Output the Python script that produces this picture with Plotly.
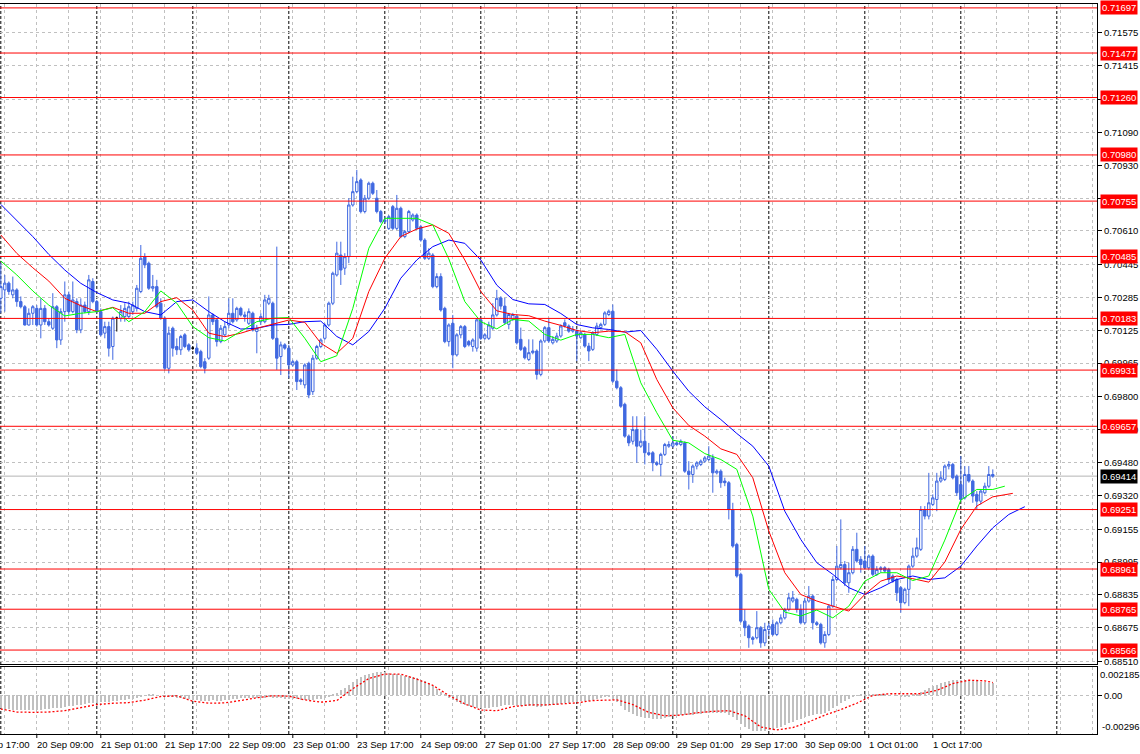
import plotly.graph_objects as go

BLUE = "#4169E1"
GRID = "#C0C0C0"

# ---- H1 candles (bar 0 = 20 Sep 00:00) ----
open_ = [0.70281,0.70322,0.70355,0.70298,0.70322,0.70265,0.70240,0.70151,0.70208,0.70232,
0.70151,0.70232,0.70167,0.70135,0.70240,0.70078,0.70216,0.70298,0.70216,0.70265,
0.70127,0.70248,0.70216,0.70363,0.70265,0.70216,0.70111,0.70143,0.70046,0.70184,
0.70184,0.70192,0.70192,0.70216,0.70232,0.70314,0.70484,0.70452,0.70330,0.70338,
0.70257,0.70184,0.69940,0.70135,0.70046,0.70030,0.70103,0.70054,0.70038,0.70038,
0.70021,0.69972,0.69989,0.70200,0.70176,0.70070,0.70103,0.70151,0.70208,0.70176,
0.70232,0.70200,0.70159,0.70208,0.70119,0.70167,0.70167,0.70257,0.70257,0.70086,
0.69997,0.70054,0.70038,0.69956,0.69972,0.69883,0.69859,0.69964,0.69826,0.69989,
0.70046,0.70086,0.70151,0.70257,0.70395,0.70492,0.70428,0.70484,0.70736,0.70801,
0.70858,0.70704,0.70769,0.70842,0.70769,0.70704,0.70655,0.70622,0.70728,0.70622,
0.70720,0.70582,0.70606,0.70663,0.70687,0.70630,0.70565,0.70476,0.70492,0.70338,
0.70387,0.70232,0.70070,0.70159,0.70005,0.70103,0.70143,0.70070,0.70046,0.70038,
0.70176,0.70086,0.70086,0.70135,0.70200,0.70283,0.70243,0.70154,0.70178,0.70194,
0.70081,0.70040,0.69983,0.70016,0.70024,0.69910,0.70073,0.70138,0.70064,0.70073,
0.70097,0.70162,0.70146,0.70121,0.70121,0.70089,0.70105,0.70048,0.70032,0.70105,
0.70138,0.70154,0.70202,0.70218,0.69877,0.69845,0.69764,0.69609,0.69584,0.69641,
0.69560,0.69584,0.69528,0.69528,0.69479,0.69471,0.69520,0.69560,0.69560,0.69576,
0.69568,0.69576,0.69438,0.69422,0.69463,0.69471,0.69487,0.69495,0.69503,0.69430,
0.69438,0.69390,0.69382,0.69251,0.69081,0.68935,0.68707,0.68683,0.68626,0.68626,
0.68675,0.68601,0.68666,0.68691,0.68642,0.68699,0.68723,0.68764,0.68805,0.68813,
0.68764,0.68699,0.68805,0.68829,0.68699,0.68691,0.68601,0.68642,0.68780,0.68910,
0.68967,0.68983,0.68894,0.68943,0.69057,0.69008,0.69000,0.68967,0.69024,0.68935,
0.68959,0.68967,0.68959,0.68927,0.68910,0.68870,0.68797,0.68862,0.68975,0.69024,
0.69057,0.69251,0.69219,0.69276,0.69300,0.69390,0.69398,0.69463,0.69471,0.69414,
0.69373,0.69308,0.69422,0.69390,0.69325,0.69292,0.69333,0.69365,0.69422]
high = [0.70452,0.70395,0.70363,0.70387,0.70330,0.70290,0.70248,0.70232,0.70248,0.70248,
0.70281,0.70248,0.70184,0.70306,0.70248,0.70232,0.70363,0.70314,0.70363,0.70281,
0.70281,0.70265,0.70395,0.70379,0.70273,0.70232,0.70167,0.70167,0.70192,0.70192,
0.70248,0.70257,0.70265,0.70265,0.70346,0.70541,0.70501,0.70460,0.70395,0.70371,
0.70281,0.70192,0.70143,0.70143,0.70086,0.70103,0.70111,0.70062,0.70046,0.70062,
0.70030,0.69989,0.70290,0.70208,0.70184,0.70151,0.70167,0.70281,0.70281,0.70240,
0.70240,0.70216,0.70232,0.70216,0.70151,0.70208,0.70298,0.70298,0.70265,0.70533,
0.70070,0.70062,0.70054,0.69981,0.69981,0.69891,0.69964,0.69972,0.70005,0.70054,
0.70086,0.70159,0.70265,0.70411,0.70557,0.70557,0.70501,0.70769,0.70874,0.70907,
0.70866,0.70785,0.70850,0.70850,0.70809,0.70712,0.70679,0.70687,0.70736,0.70785,
0.70728,0.70614,0.70712,0.70695,0.70695,0.70639,0.70574,0.70525,0.70501,0.70403,
0.70403,0.70240,0.70159,0.70200,0.70111,0.70151,0.70151,0.70078,0.70086,0.70184,
0.70184,0.70111,0.70167,0.70257,0.70322,0.70291,0.70283,0.70210,0.70210,0.70202,
0.70138,0.70048,0.70081,0.70081,0.70032,0.70081,0.70146,0.70186,0.70097,0.70113,
0.70154,0.70178,0.70154,0.70146,0.70130,0.70121,0.70113,0.70064,0.70121,0.70162,
0.70162,0.70218,0.70226,0.70251,0.69934,0.69853,0.69772,0.69617,0.69706,0.69706,
0.69641,0.69706,0.69576,0.69536,0.69487,0.69528,0.69576,0.69584,0.69609,0.69584,
0.69593,0.69584,0.69487,0.69471,0.69487,0.69495,0.69512,0.69560,0.69520,0.69447,
0.69447,0.69406,0.69390,0.69284,0.69089,0.68943,0.68764,0.68691,0.68634,0.68756,
0.68683,0.68699,0.68699,0.68715,0.68707,0.68740,0.68772,0.68845,0.68854,0.68821,
0.68789,0.68821,0.68878,0.68837,0.68707,0.68699,0.68658,0.68789,0.68927,0.69073,
0.69203,0.69000,0.68992,0.69073,0.69138,0.69024,0.69073,0.69032,0.69032,0.68975,
0.68975,0.68975,0.68967,0.68935,0.68918,0.68878,0.68870,0.68983,0.69065,0.69114,
0.69268,0.69268,0.69430,0.69325,0.69430,0.69438,0.69471,0.69487,0.69479,0.69422,
0.69512,0.69463,0.69463,0.69398,0.69341,0.69349,0.69382,0.69463,0.69447]
low = [0.70208,0.70216,0.70298,0.70281,0.70240,0.70232,0.70148,0.70148,0.70151,0.70143,
0.70086,0.70151,0.70143,0.70127,0.70038,0.70054,0.70167,0.70200,0.70208,0.70111,
0.70111,0.70208,0.70200,0.70257,0.70208,0.70095,0.70086,0.69997,0.69981,0.70119,
0.70167,0.70167,0.70184,0.70200,0.70216,0.70306,0.70428,0.70322,0.70314,0.70232,
0.70176,0.69932,0.69915,0.69997,0.70005,0.70005,0.70038,0.70021,0.70030,0.70005,
0.69940,0.69915,0.69981,0.70151,0.70046,0.70062,0.70095,0.70135,0.70159,0.70167,
0.70192,0.70167,0.70151,0.70119,0.70013,0.70151,0.70159,0.70248,0.70078,0.69932,
0.69907,0.70030,0.69891,0.69948,0.69834,0.69859,0.69842,0.69794,0.69810,0.69981,
0.70038,0.70078,0.70143,0.70248,0.70387,0.70346,0.70395,0.70452,0.70728,0.70793,
0.70695,0.70695,0.70761,0.70785,0.70695,0.70647,0.70647,0.70614,0.70614,0.70614,
0.70574,0.70574,0.70598,0.70655,0.70614,0.70557,0.70468,0.70468,0.70330,0.70330,
0.70216,0.70062,0.70046,0.69940,0.69997,0.70086,0.70038,0.70046,0.70021,0.70021,
0.70078,0.70078,0.70078,0.70127,0.70192,0.70226,0.70154,0.70130,0.70170,0.70056,
0.70024,0.69983,0.69975,0.70008,0.69885,0.69901,0.70064,0.70064,0.70056,0.70064,
0.70089,0.70138,0.70113,0.70113,0.69975,0.70081,0.70040,0.69975,0.70024,0.70097,
0.70130,0.70146,0.70194,0.69869,0.69837,0.69747,0.69601,0.69560,0.69568,0.69479,
0.69552,0.69471,0.69512,0.69438,0.69463,0.69414,0.69512,0.69552,0.69552,0.69560,
0.69560,0.69430,0.69349,0.69381,0.69447,0.69463,0.69479,0.69487,0.69333,0.69422,
0.69357,0.69365,0.69203,0.69065,0.68919,0.68699,0.68634,0.68577,0.68593,0.68618,
0.68577,0.68585,0.68634,0.68634,0.68634,0.68691,0.68715,0.68756,0.68797,0.68748,
0.68691,0.68691,0.68797,0.68666,0.68683,0.68593,0.68577,0.68634,0.68772,0.68902,
0.68959,0.68878,0.68845,0.68935,0.68992,0.68943,0.68959,0.68959,0.68927,0.68927,
0.68943,0.68943,0.68894,0.68894,0.68805,0.68748,0.68789,0.68780,0.68967,0.69016,
0.69049,0.69203,0.69203,0.69268,0.69243,0.69382,0.69390,0.69447,0.69398,0.69317,
0.69292,0.69300,0.69382,0.69284,0.69251,0.69276,0.69325,0.69357,0.69406]
close_ = [0.70338,0.70355,0.70314,0.70322,0.70265,0.70240,0.70151,0.70208,0.70240,0.70151,
0.70232,0.70167,0.70151,0.70240,0.70078,0.70216,0.70298,0.70216,0.70273,0.70127,
0.70248,0.70216,0.70371,0.70265,0.70216,0.70103,0.70143,0.70038,0.70184,0.70184,
0.70216,0.70232,0.70240,0.70248,0.70330,0.70476,0.70444,0.70330,0.70338,0.70240,
0.70184,0.69940,0.70111,0.70038,0.70030,0.70095,0.70046,0.70030,0.70038,0.70013,
0.69948,0.69940,0.70200,0.70167,0.70070,0.70135,0.70143,0.70208,0.70167,0.70232,
0.70200,0.70192,0.70216,0.70127,0.70135,0.70192,0.70273,0.70281,0.70086,0.69989,
0.70054,0.70038,0.69956,0.69972,0.69875,0.69875,0.69956,0.69810,0.69989,0.70046,
0.70078,0.70151,0.70257,0.70403,0.70501,0.70419,0.70484,0.70736,0.70801,0.70850,
0.70704,0.70769,0.70842,0.70793,0.70704,0.70655,0.70663,0.70679,0.70622,0.70720,
0.70582,0.70606,0.70704,0.70687,0.70622,0.70565,0.70476,0.70501,0.70338,0.70387,
0.70224,0.70070,0.70151,0.70005,0.70103,0.70143,0.70046,0.70054,0.70078,0.70176,
0.70086,0.70103,0.70151,0.70200,0.70281,0.70243,0.70162,0.70202,0.70202,0.70064,
0.70032,0.69991,0.70016,0.70024,0.69910,0.70073,0.70138,0.70073,0.70081,0.70097,
0.70146,0.70146,0.70121,0.70130,0.70097,0.70113,0.70048,0.70024,0.70113,0.70146,
0.70154,0.70210,0.70218,0.69877,0.69845,0.69755,0.69609,0.69576,0.69641,0.69560,
0.69584,0.69528,0.69520,0.69479,0.69471,0.69520,0.69568,0.69568,0.69576,0.69568,
0.69584,0.69438,0.69422,0.69463,0.69479,0.69487,0.69503,0.69512,0.69430,0.69438,
0.69382,0.69382,0.69251,0.69073,0.68927,0.68707,0.68675,0.68626,0.68618,0.68675,
0.68601,0.68666,0.68683,0.68642,0.68699,0.68723,0.68764,0.68821,0.68821,0.68764,
0.68699,0.68805,0.68829,0.68699,0.68691,0.68601,0.68642,0.68780,0.68910,0.68975,
0.68983,0.68894,0.68943,0.69057,0.69000,0.68983,0.68967,0.69024,0.68935,0.68959,
0.68967,0.68951,0.68910,0.68902,0.68845,0.68797,0.68862,0.68975,0.69024,0.69065,
0.69251,0.69219,0.69284,0.69308,0.69390,0.69406,0.69463,0.69471,0.69406,0.69333,
0.69300,0.69422,0.69390,0.69317,0.69292,0.69341,0.69365,0.69422,0.69414]
bars = list(range(len(close_)))

# ---- Alligator lines (read every 4 bars; shifted into the future) ----
jaw_x = list(range(0, 257, 4))
jaw = [0.70739,0.70658,0.70582,0.70495,0.70419,0.70354,0.70309,0.70273,0.70257,0.70216,
0.70200,0.70265,0.70273,0.70216,0.70167,0.70131,0.70135,0.70151,0.70154,0.70167,
0.70170,0.70095,0.70054,0.70119,0.70232,0.70379,0.70468,0.70533,0.70565,0.70549,
0.70468,0.70345,0.70275,0.70254,0.70251,0.70207,0.70153,0.70137,0.70129,0.70116,
0.70124,0.70032,0.69926,0.69828,0.69752,0.69690,0.69622,0.69560,0.69463,0.69243,
0.69105,0.68992,0.68935,0.68870,0.68837,0.68870,0.68910,0.68927,0.68910,0.68918,
0.68975,0.69073,0.69162,0.69227,0.69265]
teeth_x = list(range(0, 253, 4)) + [253]
teeth = [0.70590,0.70500,0.70430,0.70365,0.70281,0.70245,0.70216,0.70237,0.70208,0.70208,
0.70265,0.70284,0.70224,0.70111,0.70094,0.70111,0.70135,0.70154,0.70175,0.70164,
0.70062,0.70013,0.70086,0.70314,0.70476,0.70582,0.70619,0.70639,0.70598,0.70468,
0.70314,0.70220,0.70202,0.70196,0.70170,0.70149,0.70124,0.70113,0.70121,0.70118,
0.70064,0.69885,0.69747,0.69661,0.69609,0.69547,0.69520,0.69406,0.69146,0.68943,
0.68837,0.68805,0.68780,0.68756,0.68837,0.68902,0.68927,0.68914,0.68897,0.68995,
0.69154,0.69268,0.69313,0.69327,0.69330]
lips_x = list(range(0, 249, 4)) + [251]
lips = [0.70463,0.70395,0.70317,0.70248,0.70195,0.70208,0.70216,0.70235,0.70167,0.70216,
0.70317,0.70257,0.70143,0.70089,0.70073,0.70122,0.70167,0.70184,0.70187,0.70086,
0.69972,0.70001,0.70232,0.70525,0.70671,0.70671,0.70671,0.70639,0.70473,0.70265,
0.70167,0.70132,0.70178,0.70170,0.70105,0.70077,0.70105,0.70105,0.70089,0.70105,
0.69869,0.69723,0.69589,0.69576,0.69524,0.69495,0.69447,0.69219,0.68862,0.68751,
0.68732,0.68761,0.68723,0.68780,0.68902,0.68943,0.68943,0.68905,0.68927,0.69102,
0.69297,0.69349,0.69349,0.69365]

# ---- MACD sub-window ----
macd_hist = [-0.00100,-0.00104,-0.00106,-0.00108,-0.00108,-0.00110,-0.00112,-0.00112,-0.00110,-0.00110,
-0.00108,-0.00106,-0.00104,-0.00100,-0.00098,-0.00094,-0.00088,-0.00082,-0.00078,-0.00074,
-0.00070,-0.00066,-0.00060,-0.00058,-0.00056,-0.00054,-0.00050,-0.00048,-0.00044,-0.00040,
-0.00036,-0.00032,-0.00028,-0.00024,-0.00016,-0.00006,0.00002,0.00004,0.00004,0.00002,
0.00000,-0.00006,-0.00010,-0.00014,-0.00018,-0.00022,-0.00026,-0.00030,-0.00034,-0.00036,
-0.00040,-0.00042,-0.00040,-0.00038,-0.00040,-0.00040,-0.00038,-0.00034,-0.00030,-0.00026,
-0.00022,-0.00020,-0.00018,-0.00018,-0.00020,-0.00020,-0.00016,-0.00014,-0.00016,-0.00020,
-0.00022,-0.00024,-0.00026,-0.00028,-0.00030,-0.00032,-0.00032,-0.00036,-0.00034,-0.00030,
-0.00024,-0.00018,-0.00010,0.00004,0.00022,0.00040,0.00058,0.00080,0.00104,0.00128,
0.00142,0.00154,0.00166,0.00174,0.00178,0.00180,0.00178,0.00172,0.00168,0.00164,
0.00156,0.00150,0.00146,0.00140,0.00132,0.00122,0.00108,0.00092,0.00070,0.00050,
0.00028,0.00004,-0.00018,-0.00036,-0.00050,-0.00062,-0.00074,-0.00084,-0.00092,-0.00098,
-0.00100,-0.00100,-0.00096,-0.00092,-0.00086,-0.00080,-0.00076,-0.00074,-0.00072,-0.00074,
-0.00078,-0.00082,-0.00084,-0.00084,-0.00088,-0.00086,-0.00080,-0.00076,-0.00074,-0.00070,
-0.00066,-0.00060,-0.00056,-0.00052,-0.00050,-0.00046,-0.00044,-0.00040,-0.00034,-0.00026,
-0.00020,-0.00014,-0.00010,-0.00030,-0.00054,-0.00078,-0.00108,-0.00130,-0.00144,-0.00156,
-0.00164,-0.00170,-0.00174,-0.00178,-0.00180,-0.00178,-0.00172,-0.00166,-0.00160,-0.00154,
-0.00148,-0.00150,-0.00152,-0.00150,-0.00146,-0.00142,-0.00138,-0.00134,-0.00136,-0.00136,
-0.00138,-0.00138,-0.00148,-0.00168,-0.00192,-0.00222,-0.00244,-0.00260,-0.00270,-0.00272,
-0.00274,-0.00272,-0.00266,-0.00258,-0.00250,-0.00240,-0.00228,-0.00214,-0.00200,-0.00188,
-0.00180,-0.00168,-0.00156,-0.00150,-0.00144,-0.00140,-0.00134,-0.00120,-0.00100,-0.00078,
-0.00056,-0.00042,-0.00028,-0.00012,-0.00002,0.00004,0.00006,0.00010,0.00008,0.00008,
0.00006,0.00004,0.00002,0.00000,-0.00004,-0.00010,-0.00012,-0.00006,0.00004,0.00014,
0.00030,0.00044,0.00058,0.00070,0.00084,0.00094,0.00104,0.00112,0.00116,0.00118,
0.00118,0.00118,0.00116,0.00112,0.00108,0.00104,0.00100,0.00098,0.00098]
signal_x = list(range(0, 149, 4)) + list(range(154, 247, 4)) + [248]
signal = [-0.00104,-0.00127,-0.00130,-0.00127,-0.00117,-0.00096,-0.00070,-0.00060,-0.00055,-0.00036,
-0.00008,-0.00003,-0.00044,-0.00060,-0.00057,-0.00039,-0.00018,-0.00003,-0.00005,-0.00034,
-0.00052,-0.00039,0.00052,0.00130,0.00164,0.00164,0.00125,0.00078,0.00000,-0.00065,
-0.00112,-0.00117,-0.00086,-0.00073,-0.00073,-0.00065,-0.00057,-0.00039,
-0.00034,-0.00070,-0.00130,-0.00156,-0.00151,-0.00133,-0.00122,-0.00117,-0.00156,-0.00242,
-0.00265,-0.00247,-0.00203,-0.00151,-0.00109,-0.00060,0.00000,0.00013,0.00013,0.00013,
0.00039,0.00091,0.00117,0.00112,0.00099]
macd_max = 0.002185
macd_min = -0.00296

# ---- levels / axes text ----
levels = [0.71697,0.71477,0.71260,0.70980,0.70755,0.70485,0.70183,0.69931,0.69657,
          0.69251,0.68961,0.68765,0.68566]
last_price = 0.69414
y_ticks = [0.71575,0.71415,0.71250,0.71090,0.70930,0.70770,0.70610,0.70445,0.70285,0.70125,
           0.69965,0.69800,0.69640,0.69480,0.69320,0.69155,0.68995,0.68835,0.68675,0.68510]
# labels fully hidden behind a level tag in the reference
y_hidden = [0.71250, 0.70770]
x_tick_pos = [-7,9,25,41,57,73,89,105,121,137,153,169,185,201,217,233]
x_tick_text = ["19 Sep 17:00","20 Sep 09:00","21 Sep 01:00","21 Sep 17:00","22 Sep 09:00",
               "23 Sep 01:00","23 Sep 17:00","24 Sep 09:00","27 Sep 01:00","27 Sep 17:00",
               "28 Sep 09:00","29 Sep 01:00","29 Sep 17:00","30 Sep 09:00","1 Oct 01:00",
               "1 Oct 17:00"]
grid_x = list(range(1, 275, 8))
day_sep = list(range(0, 275, 24))
X_RANGE = [-0.2, 274.05]

FONT = dict(family="Liberation Sans", size=9.5, color="black")
PLOT_H = 730  # plot area height in px (754 - top 4 - bottom 20)


def x_paper(v):
    return (v - X_RANGE[0]) / (X_RANGE[1] - X_RANGE[0])


fig = go.Figure()
body_i = [i for i in bars if open_[i] != close_[i]]
doji_i = [i for i in bars if open_[i] == close_[i]]
fig.add_trace(go.Candlestick(
    x=[bars[i] for i in body_i], open=[open_[i] for i in body_i], high=[high[i] for i in body_i],
    low=[low[i] for i in body_i], close=[close_[i] for i in body_i],
    increasing=dict(line=dict(color=BLUE, width=1), fillcolor="white"),
    decreasing=dict(line=dict(color=BLUE, width=1), fillcolor=BLUE),
    whiskerwidth=0, hoverinfo="skip", xaxis="x", yaxis="y"))
fig.add_trace(go.Candlestick(
    x=[bars[i] for i in doji_i], open=[open_[i] for i in doji_i], high=[high[i] for i in doji_i],
    low=[low[i] for i in doji_i], close=[close_[i] for i in doji_i],
    increasing=dict(line=dict(color="black", width=1), fillcolor="black"),
    decreasing=dict(line=dict(color="black", width=1), fillcolor="black"),
    whiskerwidth=0, hoverinfo="skip", xaxis="x", yaxis="y"))
fig.add_trace(go.Scatter(x=jaw_x, y=jaw, mode="lines", line=dict(color="#0000FF", width=1),
                         hoverinfo="skip", xaxis="x", yaxis="y"))
fig.add_trace(go.Scatter(x=teeth_x, y=teeth, mode="lines", line=dict(color="#FF0000", width=1),
                         hoverinfo="skip", xaxis="x", yaxis="y"))
fig.add_trace(go.Scatter(x=lips_x, y=lips, mode="lines", line=dict(color="#00FF00", width=1),
                         hoverinfo="skip", xaxis="x", yaxis="y"))
fig.add_trace(go.Bar(x=bars, y=macd_hist, width=0.35, marker=dict(color=GRID, line=dict(width=0)),
                     hoverinfo="skip", xaxis="x2", yaxis="y2"))
fig.add_trace(go.Scatter(x=signal_x, y=signal, mode="lines",
                         line=dict(color="#FF0000", width=1.3, dash="2px,2px"),
                         hoverinfo="skip", xaxis="x2", yaxis="y2"))

shapes = []
for d in day_sep:
    for yr in ("y domain", "y2 domain"):
        shapes.append(dict(type="line", xref="x", yref=yr, x0=d, x1=d, y0=0, y1=1, layer="below",
                           line=dict(color="black", width=1, dash="3px,2px")))
shapes.append(dict(type="line", xref="x domain", yref="y", x0=0, x1=1, y0=last_price, y1=last_price,
                   layer="below", line=dict(color="#B4B4B4", width=1)))
for lv in levels:
    shapes.append(dict(type="line", xref="x domain", yref="y", x0=0, x1=1, y0=lv, y1=lv,
                       layer="above", line=dict(color="#FF0000", width=1)))
# time-axis tick marks under the labels
for p in x_tick_pos:
    if p >= X_RANGE[0]:
        shapes.append(dict(type="line", xref="x2", yref="paper", x0=p, x1=p, y0=0, y1=-4 / PLOT_H,
                           layer="above", line=dict(color="black", width=1)))

annotations = []
for lv in levels:
    annotations.append(dict(xref="paper", yref="y", x=1, y=lv, xanchor="left", yanchor="middle",
                            xshift=3, text=f"{lv:.5f}", showarrow=False, bgcolor="#FF0000",
                            font=dict(family="Liberation Sans", size=9.5, color="white"),
                            borderpad=1))
annotations.append(dict(xref="paper", yref="y", x=1, y=last_price, xanchor="left", yanchor="middle",
                        xshift=3, text=f"{last_price:.5f}", showarrow=False, bgcolor="black",
                        font=dict(family="Liberation Sans", size=9.5, color="white"), borderpad=1))
annotations.append(dict(xref="paper", yref="y2 domain", x=1, y=1, xanchor="left", yanchor="top",
                        xshift=1, text=f"{macd_max:.6f}", showarrow=False, font=FONT))
annotations.append(dict(xref="paper", yref="y2 domain", x=1, y=0, xanchor="left", yanchor="bottom",
                        xshift=3, text=f"{macd_min:.5f}", showarrow=False, font=FONT))
for p, t in zip(x_tick_pos, x_tick_text):
    annotations.append(dict(xref="paper", yref="paper", x=x_paper(p), y=0, xanchor="left",
                            yanchor="top", xshift=-2, yshift=-3, text=t, showarrow=False, font=FONT))

fig.update_layout(
    width=1140, height=754, margin=dict(l=0, r=43, t=4, b=20),
    paper_bgcolor="white", plot_bgcolor="white", showlegend=False, font=FONT,
    shapes=shapes, annotations=annotations, bargap=0, boxgap=0.4, boxgroupgap=0,
    xaxis=dict(domain=[0, 1], anchor="y", range=X_RANGE, rangeslider=dict(visible=False),
               showline=True, mirror=True, linecolor="black", linewidth=1,
               tickmode="array", tickvals=grid_x, showticklabels=False, ticks="",
               showgrid=True, gridcolor=GRID, griddash="3px,3px", gridwidth=1, zeroline=False),
    yaxis=dict(domain=[0.0959, 1], anchor="x", side="right", range=[0.68498, 0.71716],
               tickmode="array", tickvals=y_ticks,
               ticktext=["" if v in y_hidden else f"{v:.5f}" for v in y_ticks],
               ticks="outside", ticklen=4, tickcolor="black", showline=True, linecolor="black",
               showgrid=True, gridcolor=GRID, griddash="3px,3px", zeroline=False, tickfont=FONT),
    xaxis2=dict(domain=[0, 1], anchor="y2", matches="x", showline=True, mirror=True,
                linecolor="black", tickmode="array", tickvals=grid_x, showticklabels=False,
                ticks="", showgrid=True, gridcolor=GRID, griddash="3px,3px", zeroline=False),
    yaxis2=dict(domain=[0, 0.0918], anchor="x2", side="right", range=[macd_min, macd_max],
                tickmode="array", tickvals=[0], ticktext=["0.00"], ticks="outside", ticklen=4,
                tickcolor="black", showline=True, linecolor="black", showgrid=True,
                gridcolor=GRID, griddash="3px,3px", zeroline=False, tickfont=FONT),
)

fig.write_html("out.html", config={"displayModeBar": False},
               post_script="document.body.style.margin='0';document.body.style.overflow='hidden';")
